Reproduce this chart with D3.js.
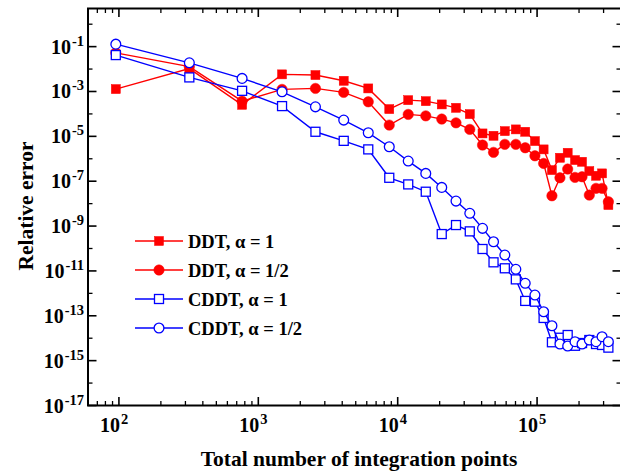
<!DOCTYPE html>
<html><head><meta charset="utf-8">
<script src="https://cdn.jsdelivr.net/npm/d3@7"></script>
<style>body{margin:0;background:#fff}svg{display:block}</style>
</head><body>
<svg id="chart" width="620" height="473"></svg>
<script>
const points = [95, 320, 765, 1480, 2570, 4100, 6150, 8700, 11900, 15900, 20700, 26200, 32900, 40600, 48700, 58700, 70400, 82200, 96500, 111400, 127800, 145900, 165800, 187100, 210100, 237000, 264800, 292500, 324700];
const ddt1 = [1.28e-3, 1.05e-2, 2.55e-4, 5.8e-3, 5.4e-3, 3.0e-3, 1.37e-3, 1.64e-4, 4.1e-4, 3.7e-4, 2.65e-4, 1.87e-4, 9.8e-5, 1.35e-5, 1.06e-5, 1.71e-5, 2.04e-5, 1.6e-5, 6.15e-6, 2.62e-6, 3.13e-7, 1.11e-6, 1.85e-6, 8.75e-7, 7.35e-7, 2.83e-7, 1.75e-7, 2.23e-7, 8.65e-9];
const ddtHalf = [5.3e-2, 1.29e-2, 3.7e-4, 1.24e-3, 1.37e-3, 9.1e-4, 3.47e-4, 3.18e-5, 9.5e-5, 8.2e-5, 5.9e-5, 4.0e-5, 2.04e-5, 4.1e-6, 1.93e-6, 4.4e-6, 4.4e-6, 3.1e-6, 1.36e-6, 6.2e-7, 2.24e-8, 1.42e-7, 3.48e-7, 1.48e-7, 1.58e-7, 2.41e-8, 4.8e-8, 4.8e-8, 1.21e-8];
const cddt1 = [4.2e-2, 4.24e-3, 1.07e-3, 2.23e-4, 1.6e-5, 6.3e-6, 2.62e-6, 1.42e-7, 7.2e-8, 3.4e-8, 4.4e-10, 1.11e-9, 5.8e-10, 9.5e-11, 2.42e-11, 1.31e-11, 4.2e-12, 4.6e-13, 4.25e-13, 8.0e-14, 6.6e-15, 1.05e-14, 1.39e-14, 4.6e-15, 6.1e-15, 8.3e-15, 5.5e-15, 5.0e-15, 3.8e-15];
const cddtHalf = [0.129, 1.9e-2, 3.83e-3, 9.7e-4, 2.07e-4, 5.3e-5, 1.44e-5, 3.43e-6, 7.9e-7, 2.23e-7, 5.3e-8, 1.3e-8, 3.7e-9, 7.9e-10, 2.0e-10, 5.1e-11, 1.18e-11, 2.8e-12, 8.4e-13, 1.52e-13, 3.6e-14, 5.5e-15, 4.5e-15, 7.0e-15, 5.5e-15, 8.3e-15, 7.0e-15, 1.17e-14, 7.0e-15];
const seriesNames = ["DDT, \u03b1 = 1", "DDT, \u03b1 = 1/2", "CDDT, \u03b1 = 1", "CDDT, \u03b1 = 1/2"];
const xTickExps = [2, 3, 4, 5];
const yTickExps = [-1, -3, -5, -7, -9, -11, -13, -15, -17];
const xTitle = "Total number of integration points";
const yTitle = "Relative error";

const series = [
  {name: seriesNames[0], values: ddt1, color: "#ff0000", shape: "square", filled: true},
  {name: seriesNames[1], values: ddtHalf, color: "#ff0000", shape: "circle", filled: true},
  {name: seriesNames[2], values: cddt1, color: "#0000ff", shape: "square", filled: false},
  {name: seriesNames[3], values: cddtHalf, color: "#0000ff", shape: "circle", filled: false}
];

const svg = d3.select("#chart");
const L = 88, R = 621, T = 8.5, B = 405.5;
const x = d3.scaleLog().domain([60, 4e5]).range([L, R]);
const y = d3.scaleLog().domain([1e-17, Math.pow(10, 0.7)]).range([B, T]);
const font = "'Liberation Serif','Times New Roman',serif";

function drawMarker(g, s, cx, cy) {
  if (s.shape === "square") {
    g.append("rect").attr("x", cx - 4.5).attr("y", cy - 4.5).attr("width", 9).attr("height", 9)
      .attr("fill", s.filled ? s.color : "#fff").attr("stroke", s.color).attr("stroke-width", s.filled ? 0.5 : 1.3);
  } else {
    g.append("circle").attr("cx", cx).attr("cy", cy).attr("r", s.filled ? 5.2 : 4.9)
      .attr("fill", s.filled ? s.color : "#fff").attr("stroke", s.color).attr("stroke-width", s.filled ? 0.5 : 1.3);
  }
}

// data
const line = d3.line().x(d => x(d[0])).y(d => y(d[1]));
series.forEach(s => {
  const data = points.map((p, i) => [p, s.values[i]]);
  const g = svg.append("g");
  g.append("path").datum(data).attr("d", line).attr("fill", "none").attr("stroke", s.color).attr("stroke-width", 1.4);
  data.forEach(d => drawMarker(g, s, x(d[0]), y(d[1])));
});

// axes frame
const ax = svg.append("g").attr("stroke", "#000");
ax.append("rect").attr("x", L).attr("y", T).attr("width", R - L).attr("height", B - T)
  .attr("fill", "none").attr("stroke-width", 2);

// x ticks
const xMajor = xTickExps.map(e => Math.pow(10, e));
const xMinor = [];
for (let e = 1; e <= 5; e++) for (let k = 2; k <= 9; k++) { const v = k * Math.pow(10, e); if (v >= 60 && v <= 4e5) xMinor.push(v); }
xMinor.forEach(v => {
  ax.append("line").attr("x1", x(v)).attr("x2", x(v)).attr("y1", B).attr("y2", B - 4.5).attr("stroke-width", 1.3);
  ax.append("line").attr("x1", x(v)).attr("x2", x(v)).attr("y1", T).attr("y2", T + 4.5).attr("stroke-width", 1.3);
});
xMajor.forEach(v => {
  ax.append("line").attr("x1", x(v)).attr("x2", x(v)).attr("y1", B).attr("y2", B - 8.5).attr("stroke-width", 1.6);
  ax.append("line").attr("x1", x(v)).attr("x2", x(v)).attr("y1", T).attr("y2", T + 8.5).attr("stroke-width", 1.6);
});
// y ticks
const yMajor = yTickExps.map(e => Math.pow(10, e));
const yMinor = [0, -2, -4, -6, -8, -10, -12, -14, -16].map(e => Math.pow(10, e));
yMinor.forEach(v => {
  ax.append("line").attr("x1", L).attr("x2", L + 4.5).attr("y1", y(v)).attr("y2", y(v)).attr("stroke-width", 1.3);
  ax.append("line").attr("x1", R).attr("x2", R - 4.5).attr("y1", y(v)).attr("y2", y(v)).attr("stroke-width", 1.3);
});
yMajor.forEach(v => {
  ax.append("line").attr("x1", L).attr("x2", L + 8.5).attr("y1", y(v)).attr("y2", y(v)).attr("stroke-width", 1.6);
  ax.append("line").attr("x1", R).attr("x2", R - 8.5).attr("y1", y(v)).attr("y2", y(v)).attr("stroke-width", 1.6);
});

// tick labels
function powLabel(sel, e) {
  sel.append("tspan").text("10");
  sel.append("tspan").attr("font-size", 14.5).attr("dx", 1).attr("dy", -8).text(e < 0 ? "-" + (-e) : String(e));
}
xTickExps.forEach(e => {
  const t = svg.append("text").attr("x", x(Math.pow(10, e)) - 19).attr("y", 432)
    .attr("text-anchor", "start").attr("font-family", font).attr("font-weight", "bold").attr("font-size", 20);
  powLabel(t, e);
});
yTickExps.forEach(e => {
  const t = svg.append("text").attr("x", 84).attr("y", y(Math.pow(10, e)) + 7)
    .attr("text-anchor", "end").attr("font-family", font).attr("font-weight", "bold").attr("font-size", 20);
  powLabel(t, e);
});

// titles
svg.append("text").attr("x", 359).attr("y", 466).attr("text-anchor", "middle")
  .attr("font-family", font).attr("font-weight", "bold").attr("font-size", 21.5).text(xTitle);
svg.append("text").attr("transform", "translate(33,206) rotate(-90)").attr("text-anchor", "middle")
  .attr("font-family", font).attr("font-weight", "bold").attr("font-size", 21.5).text(yTitle);

// legend
series.forEach((s, i) => {
  const ly = 241 + i * 29;
  const g = svg.append("g");
  g.append("line").attr("x1", 135).attr("x2", 183).attr("y1", ly).attr("y2", ly).attr("stroke", s.color).attr("stroke-width", 1.4);
  drawMarker(g, s, 159, ly);
  g.append("text").attr("x", 188).attr("y", ly + 6.5).attr("font-family", font).attr("font-weight", "bold")
    .attr("font-size", 18.5).attr("fill", "#000").text(s.name);
});
</script>
</body></html>
